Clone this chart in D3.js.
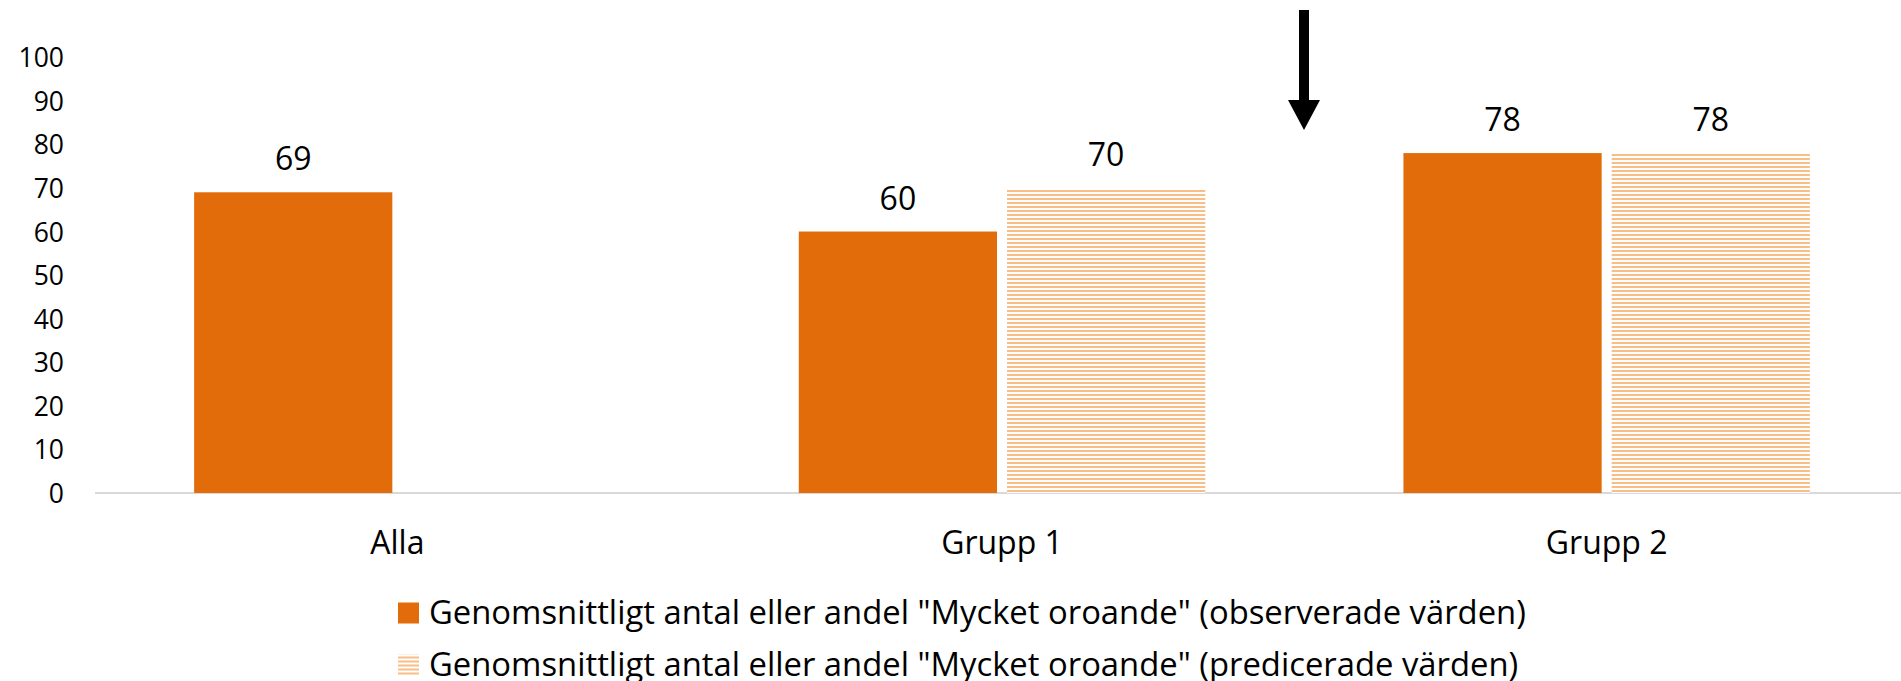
<!DOCTYPE html>
<html>
<head>
<meta charset="utf-8">
<script src="https://cdn.jsdelivr.net/npm/d3@7"></script>
<style>
  body { margin: 0; background: #fff; }
  text { font-family: "Open Sans", sans-serif; fill: #000; }
</style>
</head>
<body>
<div id="chart"></div>
<script>
// data
var categories = ["Alla", "Grupp 1", "Grupp 2"];
var observed = [69, 60, 78];
var predicted = [null, 70, 78];
var seriesNames = [
  'Genomsnittligt antal eller andel "Mycket oroande" (observerade värden)',
  'Genomsnittligt antal eller andel "Mycket oroande" (predicerade värden)'
];
var yTicks = [0, 10, 20, 30, 40, 50, 60, 70, 80, 90, 100];

var W = 1901, H = 681;
var orange = "#E36C0A", hatch = "#F9BD86";

var svg = d3.select("#chart")
  .append("svg")
    .attr("width", W)
    .attr("height", H)

// hatched pattern for predicted values
var defs = svg.append("defs")
var pat = defs.append("pattern")
    .attr("id", "hatch")
    .attr("patternUnits", "userSpaceOnUse")
    .attr("width", 8)
    .attr("height", 4)
pat.append("rect")
    .attr("width", 8).attr("height", 4).attr("fill", "#fff")
pat.append("rect")
    .attr("y", 2).attr("width", 8).attr("height", 2).attr("fill", hatch)

// scales
var x0 = d3.scaleBand()
  .domain(categories)
  .range([95, 1909])

var x1 = d3.scaleBand()
  .domain(["obs", "pred"])
  .range([0, x0.bandwidth()])
  .paddingInner(0.048)
  .paddingOuter(0.476)

var y = d3.scaleLinear()
  .domain([0, 100])
  .range([493, 57.2])

// y axis labels only
svg.append("g")
    .attr("transform", "translate(64,0)")
    .call(d3.axisLeft(y).tickValues(yTicks).tickSize(0).tickPadding(0))
    .call(g => g.select(".domain").remove())
    .selectAll("text")
      .style("font-size", "26.5px")
      .attr("dy", "0.36em")

// baseline
svg.append("line")
    .attr("x1", 95)
    .attr("x2", W)
    .attr("y1", y(0))
    .attr("y2", y(0))
    .attr("stroke", "#D9D9D9")
    .attr("stroke-width", 2)

// bars
var rows = [];
categories.forEach(function(c, i) {
  if (observed[i] != null) rows.push({cat: c, key: "obs", v: observed[i]});
  if (predicted[i] != null) rows.push({cat: c, key: "pred", v: predicted[i]});
});

svg.append("g")
  .selectAll("rect")
  .data(rows)
  .enter()
  .append("rect")
    .attr("x", d => x0(d.cat) + x1(d.key))
    .attr("y", d => y(d.v))
    .attr("width", x1.bandwidth())
    .attr("height", d => y(0) - y(d.v))
    .attr("fill", d => d.key == "obs" ? orange : "url(#hatch)")

// value labels
svg.append("g")
  .selectAll("text")
  .data(rows)
  .enter()
  .append("text")
    .attr("x", d => x0(d.cat) + x1(d.key) + x1.bandwidth() / 2)
    .attr("y", d => y(d.v) - 22)
    .attr("text-anchor", "middle")
    .style("font-size", "32px")
    .text(d => d.v)

// category labels
svg.append("g")
  .selectAll("text")
  .data(categories)
  .enter()
  .append("text")
    .attr("x", d => x0(d) + x0.bandwidth() / 2)
    .attr("y", 554)
    .attr("text-anchor", "middle")
    .style("font-size", "32px")
    .text(d => d)

// legend
var legend = svg.append("g")
  .selectAll("g")
  .data(seriesNames)
  .enter()
  .append("g")
    .attr("transform", (d, i) => "translate(398," + (602.5 + i * 52) + ")")

legend.append("rect")
    .attr("width", 21)
    .attr("height", 21)
    .attr("fill", (d, i) => i == 0 ? orange : "url(#hatch)")

legend.append("text")
    .attr("x", 31)
    .attr("y", 21)
    .style("font-size", "32.8px")
    .text(d => d)

// arrow pointing down between the groups
svg.append("path")
    .attr("d", "M1299,10 L1309,10 L1309,100 L1320,100 L1304,130 L1288,100 L1299,100 Z")
    .attr("fill", "#000")
</script>
</body>
</html>
